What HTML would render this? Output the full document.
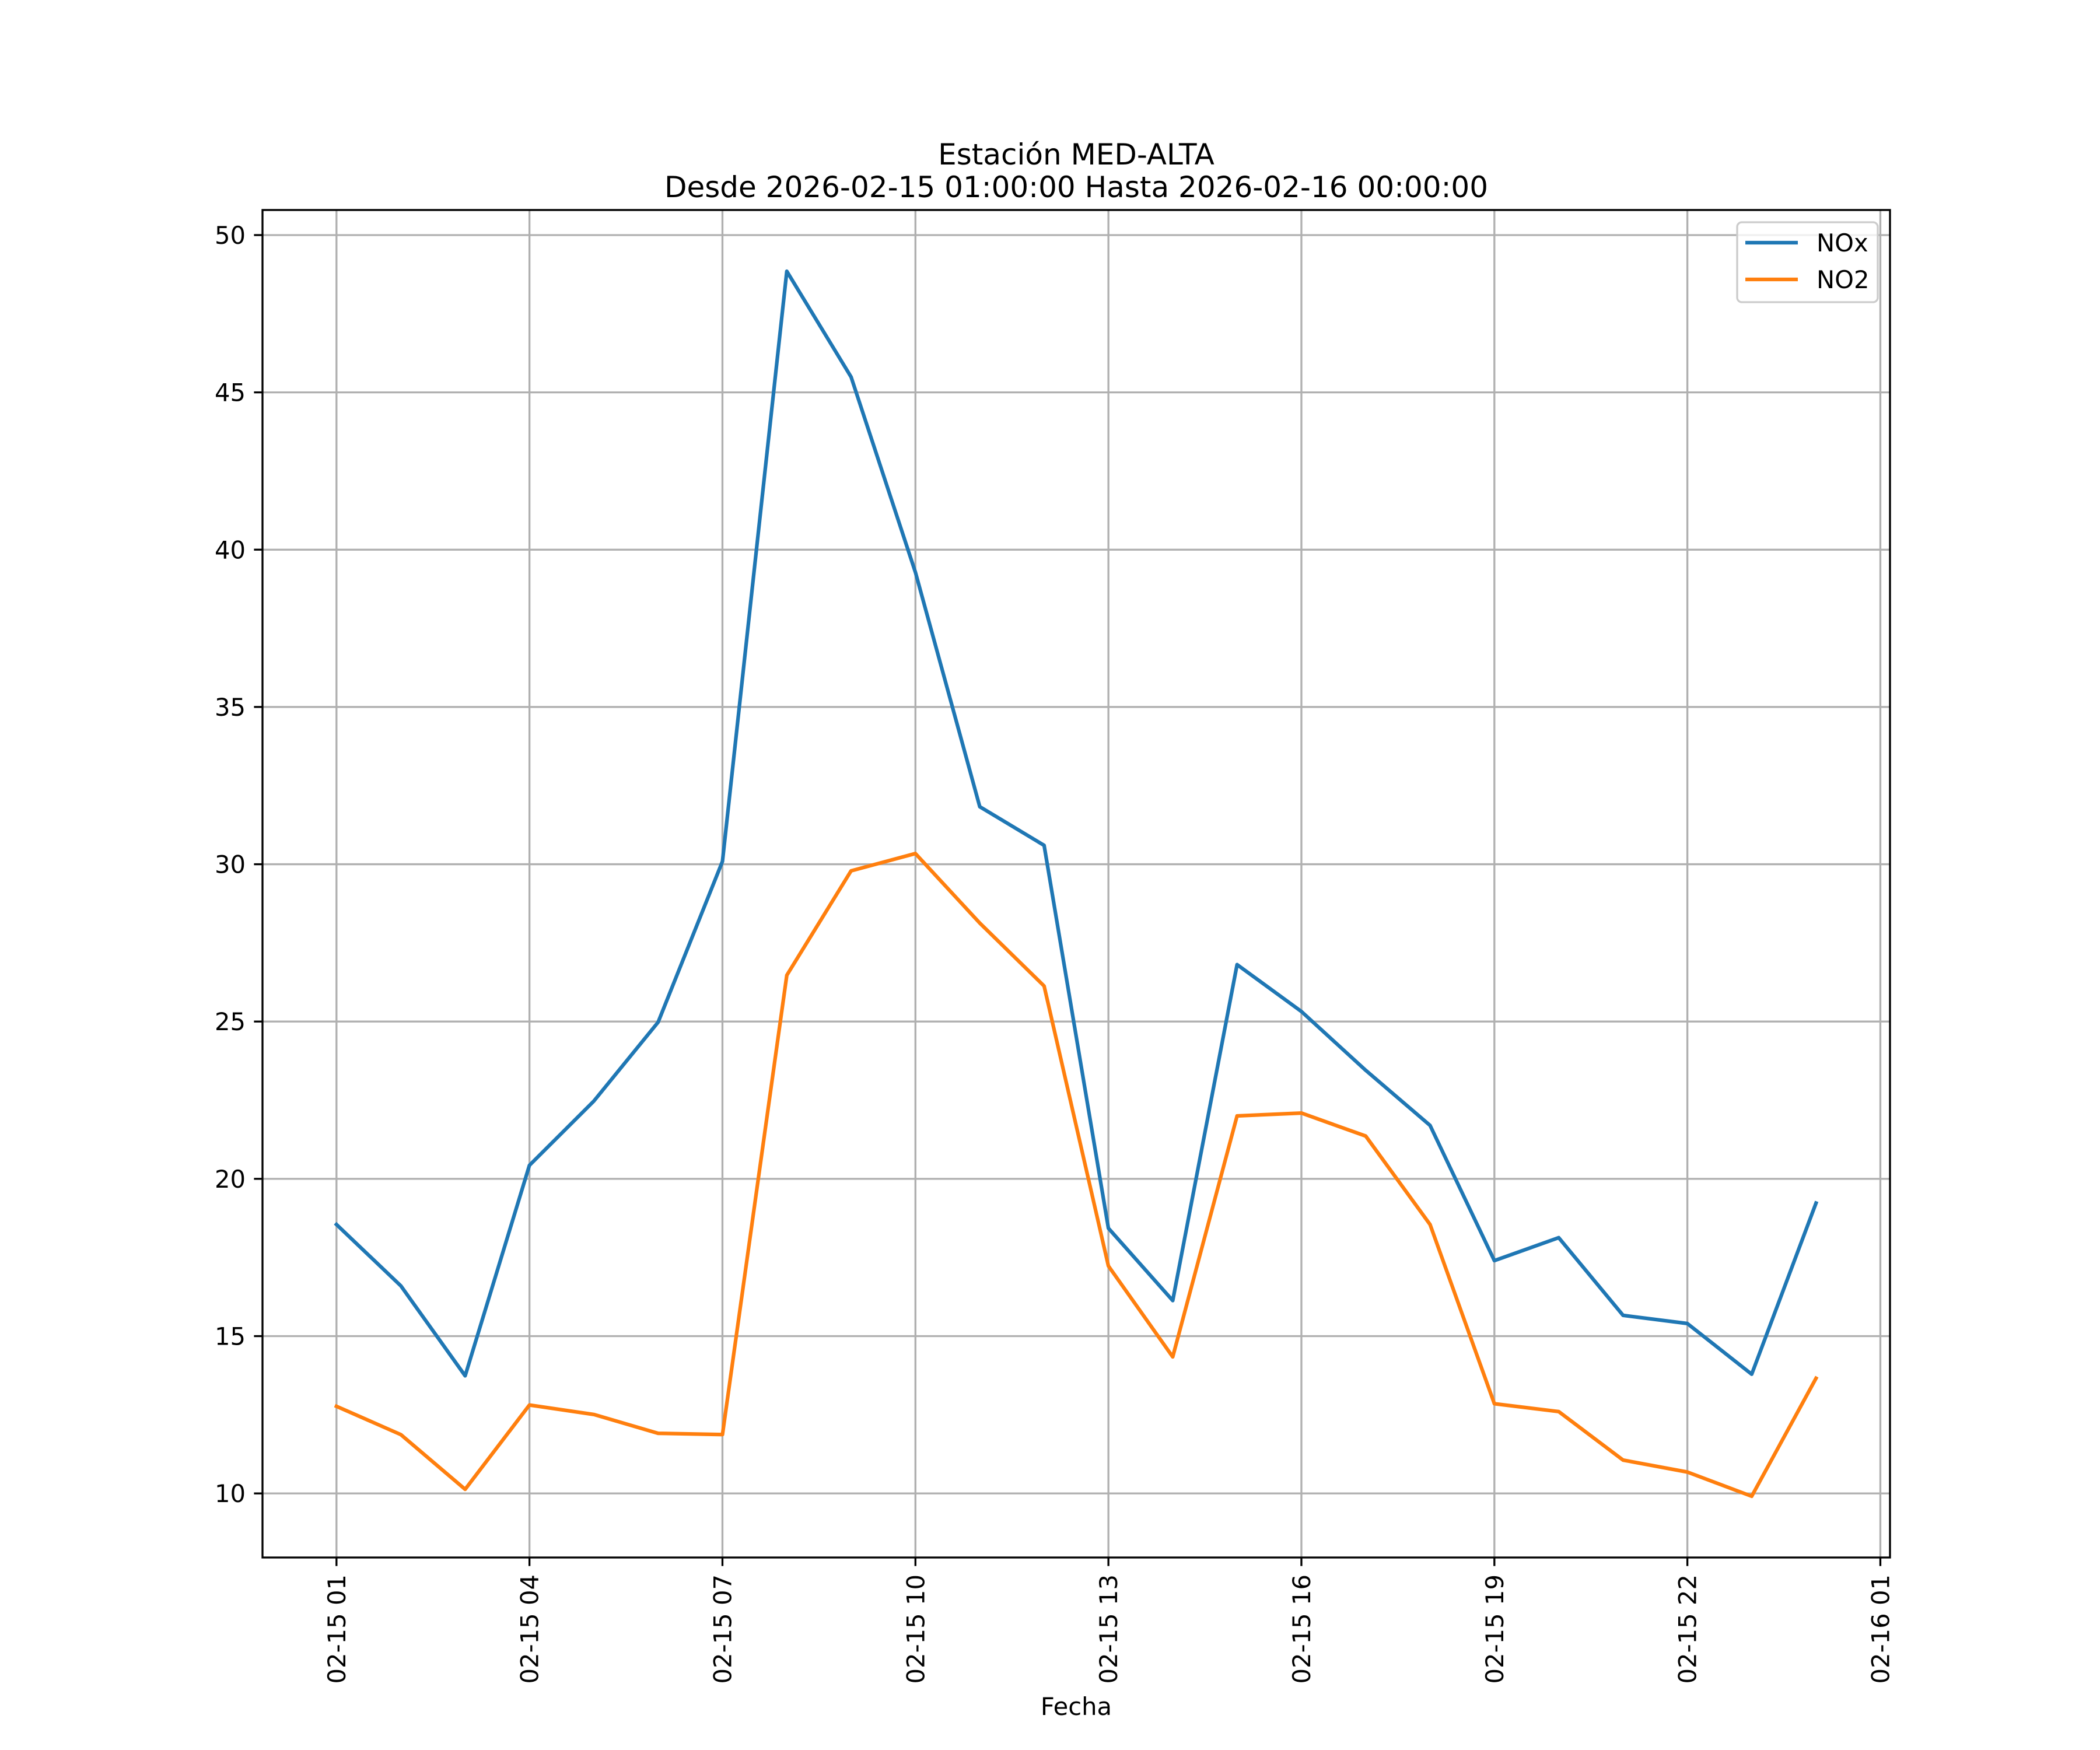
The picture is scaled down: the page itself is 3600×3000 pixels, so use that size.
<!DOCTYPE html>
<html><head><meta charset="utf-8"><style>
html,body{margin:0;padding:0;background:#fff}
svg{display:block}
text{font-family:"DejaVu Sans","Liberation Sans",sans-serif;fill:#000}
</style></head><body>
<svg id="chart" width="3600" height="3000" viewBox="0 0 3600 3000" xmlns="http://www.w3.org/2000/svg">
<rect width="3600" height="3000" fill="#fff"/>
<text x="1845" y="282" font-size="50" text-anchor="middle">Estación MED-ALTA</text>
<text x="1845" y="338" font-size="50" text-anchor="middle">Desde 2026-02-15 01:00:00 Hasta 2026-02-16 00:00:00</text>
<g id="grid"></g>
<g id="series"></g>
<rect x="450" y="360" width="2790" height="2310" fill="none" stroke="#000" stroke-width="3.33"/>
<g id="ticks"></g>
<text x="1845" y="2940" font-size="41.7" text-anchor="middle">Fecha</text>
<g>
<rect x="2978" y="381" width="241" height="137" rx="8" fill="#fff" fill-opacity="0.8" stroke="#cccccc" stroke-width="3.33"/>
<line x1="2992" y1="416" x2="3082" y2="416" stroke="#1f77b4" stroke-width="6.25"/>
<text x="3114" y="431" font-size="41.7">NOx</text>
<line x1="2992" y1="479" x2="3082" y2="479" stroke="#ff7f0e" stroke-width="6.25"/>
<text x="3114" y="494" font-size="41.7">NO2</text>
</g>
</svg>
<script>
const hours = [1,2,3,4,5,6,7,8,9,10,11,12,13,14,15,16,17,18,19,20,21,22,23,24];
const noxValues = [18.55,16.6,13.74,20.43,22.47,24.98,30.09,48.85,45.49,39.28,31.83,30.6,18.43,16.13,26.81,25.32,23.45,21.7,17.4,18.13,15.66,15.4,13.79,19.23];
const no2Values = [12.77,11.87,10.13,12.81,12.51,11.91,11.87,26.47,29.79,30.34,28.13,26.13,17.23,14.34,22.0,22.09,21.36,18.55,12.85,12.6,11.06,10.68,9.91,13.66];
const yTicks = [10,15,20,25,30,35,40,45,50];
const xTickHours = [1,4,7,10,13,16,19,22,25];
const xTickLabels = ["02-15 01","02-15 04","02-15 07","02-15 10","02-15 13","02-15 16","02-15 19","02-15 22","02-16 01"];

const NS="http://www.w3.org/2000/svg";
const L=450,R=3240,T=360,B=2670;
const all=noxValues.concat(no2Values);
const ymin=Math.min(...all),ymax=Math.max(...all),yr=ymax-ymin;
const y0=ymin-0.05*yr,y1=ymax+0.05*yr;
const xmin=hours[0],xmax=hours[hours.length-1],xr=xmax-xmin;
const x0=xmin-0.05*xr,x1=xmax+0.05*xr;
function sx(h){return L+(h-x0)/(x1-x0)*(R-L);}
function sy(v){return B-(v-y0)/(y1-y0)*(B-T);}
function mk(tag,attrs,parent){const e=document.createElementNS(NS,tag);for(const k in attrs)e.setAttribute(k,attrs[k]);parent.appendChild(e);return e;}
const grid=document.getElementById('grid'),ticks=document.getElementById('ticks'),series=document.getElementById('series');
yTicks.forEach(v=>{
  const y=sy(v);
  const g=mk('line',{x1:L,x2:R,y1:y,y2:y,stroke:'#b0b0b0','stroke-width':3.33},grid);
  
  
  const t=mk('line',{x1:L-14.6,x2:L,y1:y,y2:y,stroke:'#000','stroke-width':3.33},ticks);
  
  
  const tx=mk('text',{x:L-29,y:y+15,'font-size':41.7,'text-anchor':'end'},ticks);
  tx.textContent=v;
  
  
});
xTickHours.forEach((h,i)=>{
  const x=sx(h);
  const g=mk('line',{x1:x,x2:x,y1:T,y2:B,stroke:'#b0b0b0','stroke-width':3.33},grid);
  
  
  const t=mk('line',{x1:x,x2:x,y1:B,y2:B+14.6,stroke:'#000','stroke-width':3.33},ticks);
  
  
  const tx=mk('text',{x:0,y:0,'font-size':41.7,'text-anchor':'end',transform:'translate('+(x+15)+','+(B+29)+') rotate(-90)'},ticks);
  tx.textContent=xTickLabels[i];
  
  
});
function line(vals,color,name){
  const pts=vals.map((v,i)=>sx(hours[i]).toFixed(1)+','+sy(v).toFixed(1)).join(' ');
  const p=mk('polyline',{points:pts,fill:'none',stroke:color,'stroke-width':6.25,'stroke-linejoin':'round','stroke-linecap':'square'},series);
  
  
}
line(noxValues,'#1f77b4','nox-line');
line(no2Values,'#ff7f0e','no2-line');
</script>
</body></html>
